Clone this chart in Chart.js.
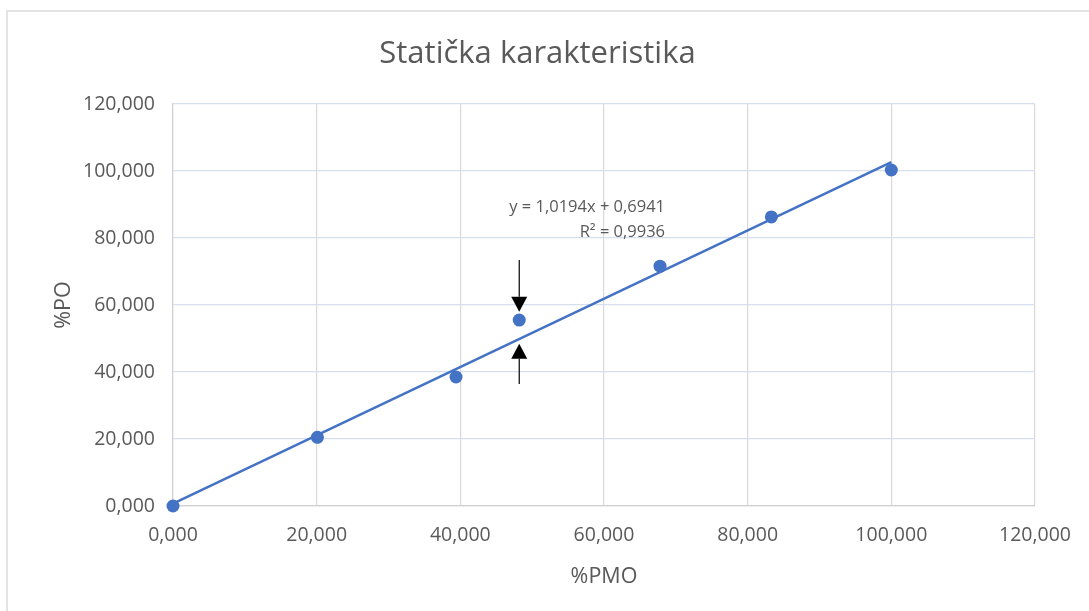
<!DOCTYPE html>
<html><head><meta charset="utf-8">
<script src="https://cdn.jsdelivr.net/npm/chart.js@4"></script>
<style>
body{margin:0;background:#fff}
#wrap{position:relative;width:1089px;height:611px}
#frame{position:absolute;left:6px;top:10px;right:0;bottom:0;border-top:2px solid #e3e3e3;border-left:2px solid #e3e3e3;pointer-events:none}
canvas{position:absolute;left:0;top:0}
</style>
</head><body><div id="wrap"><canvas id="c" width="1089" height="611"></canvas><div id="frame"></div></div>
<script>
const chartTitle = 'Statička karakteristika';
const xTitle = '%PMO';
const yTitle = '%PO';
const pmo = [0, 20.1, 39.4, 48.2, 67.8, 83.3, 100.0];
const po  = [0, 20.5, 38.5, 55.5, 71.6, 86.3, 100.3];
const trendX = [0, 100];
const trendY = [0.6941, 102.6341];
const tickValues = [0, 20, 40, 60, 80, 100, 120];
const eqLines = ['y = 1,0194x + 0,6941', 'R² = 0,9936'];
const eqAnchor = {x: 68.5, y: [89.2, 81.6]};
// arrows: [x, fromY, tipY]
const arrowDown = [48.2, 73.4, 58.0];
const arrowUp = [48.2, 36.4, 48.4];

const FONT = "'Open Sans', sans-serif";
const GRAY = '#595959';
const fmt = v => Number(v).toFixed(3).replace('.', ',');

const annot = {
  id: 'annot',
  afterDatasetsDraw(chart) {
    const {ctx, scales: {x, y}} = chart;
    ctx.save();
    ctx.fillStyle = GRAY;
    ctx.font = "16.5px " + FONT;
    ctx.textAlign = 'right';
    ctx.textBaseline = 'middle';
    eqLines.forEach((t, i) => ctx.fillText(t, x.getPixelForValue(eqAnchor.x), y.getPixelForValue(eqAnchor.y[i])));
    const drawArrow = (a) => {
      const px = x.getPixelForValue(a[0]);
      const p0 = y.getPixelForValue(a[1]);
      const p1 = y.getPixelForValue(a[2]);
      const dir = p1 > p0 ? 1 : -1;
      const hl = 15, hw = 8;
      ctx.strokeStyle = '#000';
      ctx.fillStyle = '#000';
      ctx.lineWidth = 1.2;
      ctx.beginPath();
      ctx.moveTo(px, p0);
      ctx.lineTo(px, p1 - dir * hl);
      ctx.stroke();
      ctx.beginPath();
      ctx.moveTo(px, p1);
      ctx.lineTo(px - hw, p1 - dir * hl);
      ctx.lineTo(px + hw, p1 - dir * hl);
      ctx.closePath();
      ctx.fill();
    };
    drawArrow(arrowDown);
    drawArrow(arrowUp);
    ctx.restore();
  }
};

new Chart(document.getElementById('c'), {
  type: 'scatter',
  data: {
    datasets: [
      {
        type: 'line',
        data: trendX.map((v, i) => ({x: v, y: trendY[i]})),
        borderColor: '#4472C4',
        borderWidth: 2.5,
        pointRadius: 0,
        fill: false,
        clip: false,
        order: 2
      },
      {
        data: pmo.map((v, i) => ({x: v, y: po[i]})),
        backgroundColor: '#4472C4',
        borderColor: '#4472C4',
        pointRadius: 6.5,
        pointBorderWidth: 0,
        clip: false,
        order: 1
      }
    ]
  },
  options: {
    responsive: false,
    animation: false,
    layout: {padding: {left: 40, right: 54, top: 20, bottom: 18}},
    plugins: {
      legend: {display: false},
      tooltip: {enabled: false},
      title: {
        display: true,
        text: chartTitle,
        color: GRAY,
        font: {family: FONT, size: 31, weight: 'normal', lineHeight: 1.2},
        padding: {top: 15.4, bottom: 31.4}
      }
    },
    scales: {
      x: {
        type: 'linear',
        min: 0, max: 120,
        afterFit: s => { s.height = 87; },
        afterBuildTicks: s => { s.ticks = tickValues.map(v => ({value: v})); },
        ticks: {color: GRAY, font: {family: FONT, size: 19.5}, padding: 18, callback: fmt, maxRotation: 0},
        grid: {color: '#d9d9d9', lineWidth: 1.2, drawTicks: false},
        border: {color: '#d0d0d0', width: 1.2},
        title: {display: true, text: xTitle, color: GRAY, font: {family: FONT, size: 21.5, lineHeight: 1.2}, padding: {top: 0, bottom: 3}}
      },
      y: {
        type: 'linear',
        min: 0, max: 120,
        afterFit: s => { s.width = 133; },
        afterBuildTicks: s => { s.ticks = tickValues.map(v => ({value: v})); },
        ticks: {color: GRAY, font: {family: FONT, size: 19.5}, padding: 18, callback: fmt},
        grid: {color: '#d6dff0', lineWidth: 1.2, drawTicks: false},
        border: {color: '#d0d0d0', width: 1.2},
        title: {display: true, text: yTitle, color: GRAY, font: {family: FONT, size: 21.5, lineHeight: 1.2}, padding: {top: 11, bottom: 0}}
      }
    }
  },
  plugins: [annot]
});
</script>
</body></html>
